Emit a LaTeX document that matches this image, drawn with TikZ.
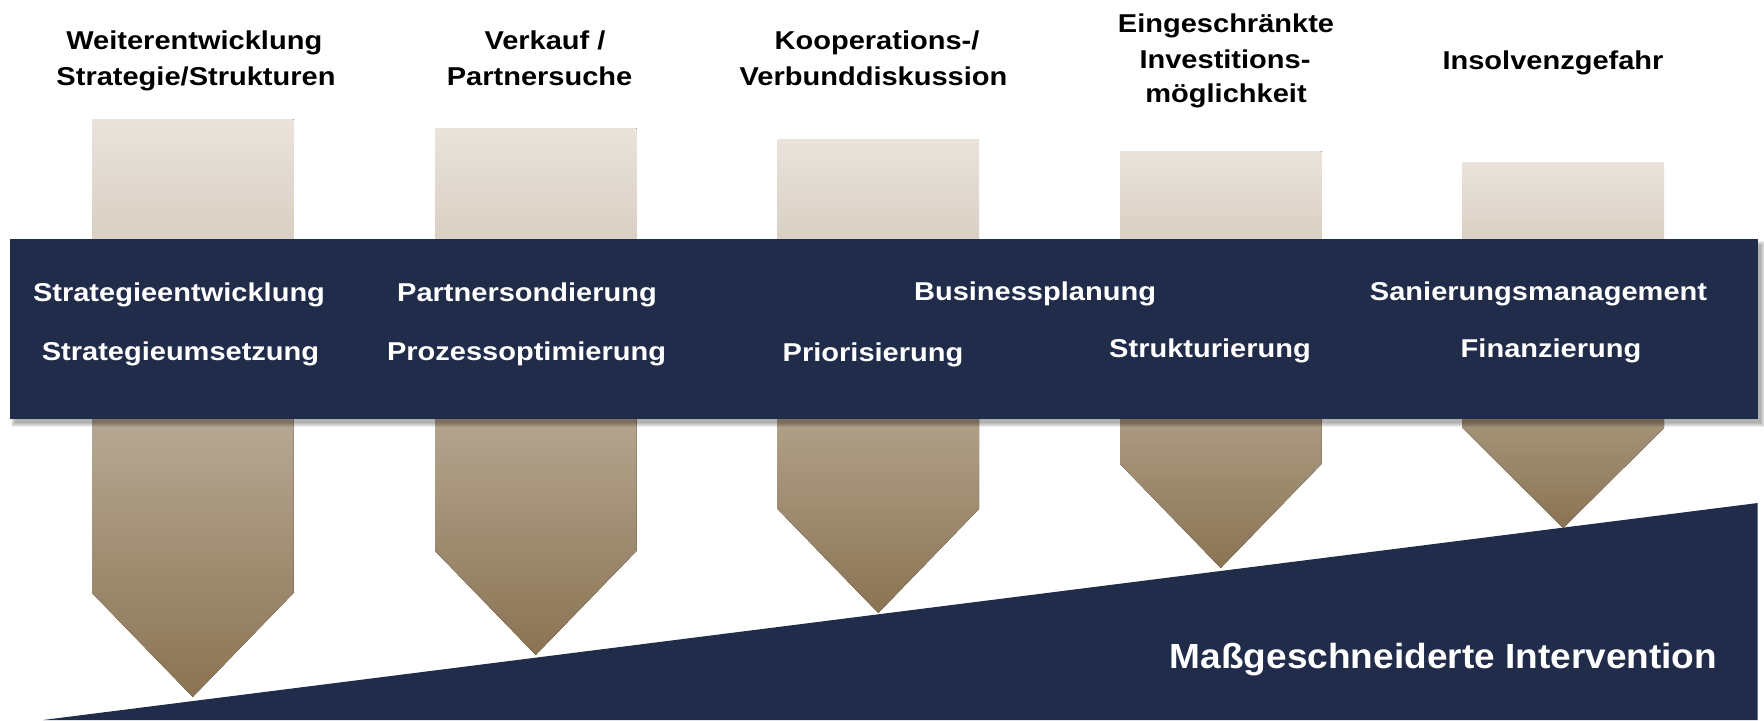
\documentclass[tikz,border=0pt]{standalone}
\usepackage{fontspec}
\setmainfont{Liberation Sans}
\usepackage{graphicx}
\definecolor{navy}{HTML}{202C4A}
\definecolor{sandlight}{HTML}{E9E3DC}
\definecolor{sandmid}{HTML}{E6E0D8}
\definecolor{sandnear}{HTML}{D9CFC3}
\definecolor{tipc}{HTML}{8A7352}
\definecolor{low1}{HTML}{B7A994}
\definecolor{low2}{HTML}{B5A590}
\definecolor{low3}{HTML}{B1A18A}
\definecolor{low4}{HTML}{AC9B83}
\definecolor{low5}{HTML}{A6957B}
\newcommand{\hx}[1]{\scalebox{1.125}[1]{#1}}
\newcommand{\wx}[1]{\scalebox{1.06}[1]{#1}}
\begin{document}
\begin{tikzpicture}[x=0.5pt,y=-0.5pt,
  head/.style={anchor=base, inner sep=0pt, text=black, font=\fontsize{12.9pt}{15pt}\selectfont\bfseries},
  bandtxt/.style={anchor=base, inner sep=0pt, text=white, font=\fontsize{12.9pt}{15pt}\selectfont\bfseries},
  bigtxt/.style={anchor=base, inner sep=0pt, text=white, font=\fontsize{17.46pt}{20pt}\selectfont\bfseries}]
\useasboundingbox (0,0) rectangle (1764,720);
% pillars
\foreach \i/\L/\T/\S/\P in {1/92/119/593/697, 2/435/128/551/655, 3/777.5/139/509/613, 4/1120/151/464/568, 5/1462.5/162/428/528} {
  \fill[top color=sandlight, middle color=sandmid, bottom color=sandnear] (\L,\T) rectangle (\L+201.5,241);
  \fill[top color=low\i, bottom color=tipc] (\L,417) -- (\L+201.5,417) -- (\L+201.5,\S) -- (\L+100.75,\P) -- (\L,\S) -- cycle;
}
% band shadow
\foreach \k in {0,...,4} {
  \fill[black, opacity=0.07] (11.3+\k,241+\k) rectangle (1764.7-\k,426.5-\k);
}
% band
\fill[navy] (10.3,239) rectangle (1757.7,418.5);
% wedge
\fill[navy] (43,720) -- (1757.7,503) -- (1757.7,720) -- cycle;
% headings
\node[head] (h1a) at (194.3,49.5) {\hx{Weiterentwicklung}};
\node[head] (h1b) at (196,85.5) {\hx{Strategie/Strukturen}};
\node[head] (h2a) at (545,49.5) {\hx{Verkauf /}};
\node[head] (h2b) at (539.6,85.5) {\hx{Partnersuche}};
\node[head] (h3a) at (877,49.5) {\hx{Kooperations-/}};
\node[head] (h3b) at (873.5,85.5) {\hx{Verbunddiskussion}};
\node[head] (h4a) at (1226,32.5) {\hx{Eingeschränkte}};
\node[head] (h4b) at (1225,68.5) {\hx{Investitions-}};
\node[head] (h4c) at (1226,102.5) {\hx{möglichkeit}};
\node[head] (h5) at (1553,69) {\hx{Insolvenzgefahr}};
% band texts
\node[bandtxt] (b1a) at (179,301) {\hx{Strategieentwicklung}};
\node[bandtxt] (b1b) at (180.5,360.5) {\hx{Strategieumsetzung}};
\node[bandtxt] (b2a) at (527,301) {\hx{Partnersondierung}};
\node[bandtxt] (b2b) at (526.5,360.5) {\hx{Prozessoptimierung}};
\node[bandtxt] (b3) at (873,361.5) {\hx{Priorisierung}};
\node[bandtxt] (b4) at (1035,300) {\hx{Businessplanung}};
\node[bandtxt] (b5) at (1210,357.5) {\hx{Strukturierung}};
\node[bandtxt] (b6a) at (1538.5,300) {\hx{Sanierungsmanagement}};
\node[bandtxt] (b6b) at (1551,357.5) {\hx{Finanzierung}};
% wedge text
\node[bigtxt] (mi) at (1443.5,668.5) {\wx{Maßgeschneiderte Intervention}};
\end{tikzpicture}
\end{document}
